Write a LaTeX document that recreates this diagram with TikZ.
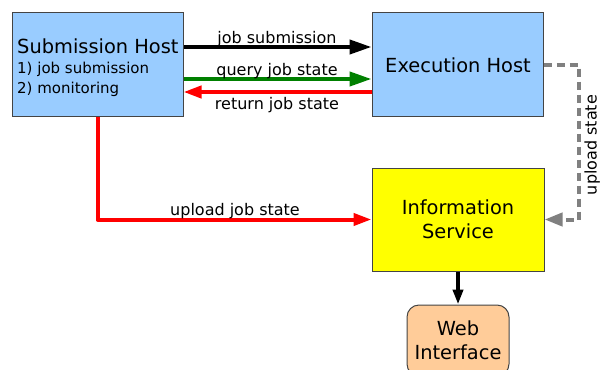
\documentclass[tikz,border=0pt]{standalone}
\usepackage{fontspec}
\setmainfont{DejaVu Sans}
\usetikzlibrary{arrows.meta}
\definecolor{hostblue}{HTML}{99CCFF}
\definecolor{infoyellow}{HTML}{FFFF00}
\definecolor{webpeach}{HTML}{FFCC99}
\definecolor{boxline}{HTML}{444444}
\definecolor{okgreen}{HTML}{008000}
\definecolor{dashgray}{HTML}{808080}
\tikzset{
  hostbox/.style={draw=boxline, line width=1pt, fill=hostblue, minimum width=171pt, minimum height=103pt, inner sep=0pt},
  infobox/.style={draw=boxline, line width=1pt, fill=infoyellow, minimum width=172pt, minimum height=103pt, inner sep=0pt, align=center, font=\fontsize{19.4}{24}\selectfont},
  webbox/.style={draw=boxline, line width=1pt, fill=webpeach, rounded corners=12pt, minimum width=102pt, minimum height=71pt, inner sep=0pt, align=center, font=\fontsize{19.4}{23.5}\selectfont},
  title/.style={font=\fontsize{19.4}{22}\selectfont, inner sep=0pt},
  small/.style={font=\fontsize{15}{18}\selectfont, inner sep=0pt},
  lbl/.style={font=\fontsize{16}{19}\selectfont, inner sep=0pt},
  conn/.style={line width=4pt},
  bigtip/.style={-{Triangle[length=22pt,width=14pt]}},
  smalltip/.style={-{Triangle[length=18pt,width=12pt]}},
}
\begin{document}
\begin{tikzpicture}[x=1pt,y=-1pt]
\useasboundingbox (0,0) rectangle (601,369);
\clip (0,0) rectangle (601,369);
% boxes
\node[hostbox] (sub) at (97.5,64.5) {};
\node[title, anchor=base west] (s1) at (17,53) {Submission Host};
\node[small, anchor=base west] (s2) at (17,73) {1) job submission};
\node[small, anchor=base west] (s3) at (17,93) {2) monitoring};
\node[hostbox] (exec) at (457.5,64.5) {};
\node[title, anchor=base] (e1) at (458,72) {Execution Host};
\node[infobox] (info) at (458,219.5) {Information\\Service};
\node[webbox] (web) at (458,340.5) {Web\\Interface};
% connectors
\coordinate (a1) at (183,47);
\coordinate (b1) at (372,47);
\draw[conn, bigtip, black] (sub.east |- a1) -- (exec.west |- b1);
\coordinate (a2) at (183,79);
\draw[conn, bigtip, okgreen] (sub.east |- a2) -- (exec.west |- a2);
\coordinate (a3) at (183,92);
\draw[conn, smalltip, red] (exec.west |- a3) -- (sub.east |- a3);
\draw[conn, smalltip, red, line join=round] (sub.south) |- (info.west);
\draw[conn, dashgray, dash pattern=on 8pt off 5pt, -{Triangle[length=18pt,width=13pt]}] (exec.east) -- ++(35,0) |- (info.east);
\draw[conn, -{Triangle[length=15pt,width=10pt]}, black] (info.south) -- (web.north);
% labels
\node[lbl, anchor=base] (l1) at (277,44) {job submission};
\node[lbl, anchor=base] (l2) at (277,75) {query job state};
\node[lbl, anchor=base] (l3) at (277,109) {return job state};
\node[lbl, anchor=base] (l4) at (235,215) {upload job state};
\node[lbl, anchor=base, rotate=90] (l5) at (596.5,145) {upload state};
\end{tikzpicture}
\end{document}
